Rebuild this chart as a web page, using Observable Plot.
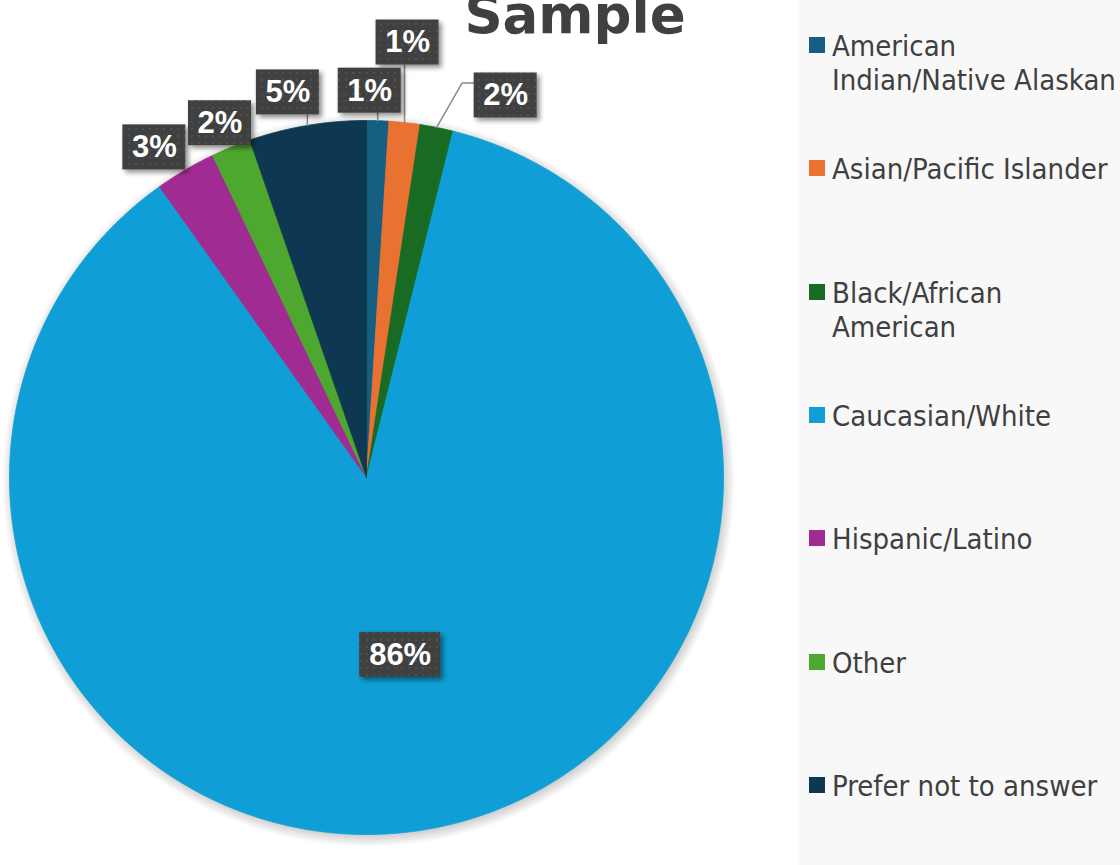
<!DOCTYPE html>
<html>
<head>
<meta charset="utf-8">
<script src="https://cdn.jsdelivr.net/npm/d3@7"></script>
<script src="https://cdn.jsdelivr.net/npm/@observablehq/plot@0.6"></script>
<style>
  html, body { margin: 0; padding: 0; background: #ffffff; overflow: hidden; }
  #wrap { position: relative; width: 1120px; height: 865px; overflow: hidden; background: #ffffff; }
  #legend { position: absolute; left: 799px; top: 0; width: 321px; height: 865px; background: #f8f8f8; }
  #chart { position: absolute; left: 0; top: 0; }
  #title { position: absolute; left: 375px; width: 400px; top: -12px; text-align: center;
           font: bold 53px/53px "DejaVu Sans", sans-serif; color: #404040; white-space: nowrap; }
  .item { position: absolute; left: 10px; }
  .sw { position: absolute; left: 0; top: 0; width: 16px; height: 16px; }
  .lab { position: absolute; left: 23px; top: -8px; font-family: "DejaVu Sans Condensed", "DejaVu Sans", sans-serif;
         font-stretch: condensed; font-size: 29px; line-height: 34px; color: #404040; white-space: nowrap; }
</style>
</head>
<body>
<div id="wrap">
  <div id="legend"></div>
  <div id="chart"></div>
  <div id="title">Sample</div>
</div>
<script>
// ---- data ----
const categories = ["American Indian/Native Alaskan", "Asian/Pacific Islander", "Black/African American",
  "Caucasian/White", "Hispanic/Latino", "Other", "Prefer not to answer"];
const legendLines = [["American", "Indian/Native Alaskan"], ["Asian/Pacific Islander"], ["Black/African", "American"],
  ["Caucasian/White"], ["Hispanic/Latino"], ["Other"], ["Prefer not to answer"]];
const percentages = [1.0, 1.4, 1.5, 86.3, 2.75, 1.8, 5.3];
const percentLabels = ["1%", "1%", "2%", "86%", "3%", "2%", "5%"];
const colors = ["#156082", "#E97132", "#196B24", "#0F9ED5", "#A02B93", "#4EA72E", "#0E3851"];

// ---- layout (label placement, pixels) ----
const labelRadius = [1, 1, 1, 0.5, 1, 1, 1];
const labelOffsetPx = [[-8, -30], [3, -80], [69, -32], [0.5, 2], [-31, -22.5], [-11, -24], [-19.5, -33]];
const leaderType = ["v", "v", "elbow", null, null, null, "v"];

const cx = 366, cy = 477, R = 357;
const boxH = 45;
const boxW = t => t.length > 2 ? 81 : 63;

// ---- build pie geometry from values ----
const pie = d3.pie().sort(null).value(d => d.value);
const arcs = pie(categories.map((c, i) => ({cat: c, value: percentages[i]})));

const slicePoints = [];
arcs.forEach((a, i) => {
  const cat = a.data.cat;
  slicePoints.push({cat, x: 0, y: 0});
  const n = Math.max(4, Math.ceil((a.endAngle - a.startAngle) / 0.005));
  for (let k = 0; k <= n; k++) {
    const t = a.startAngle + (a.endAngle - a.startAngle) * k / n;
    slicePoints.push({cat, x: Math.sin(t), y: Math.cos(t)});
  }
  slicePoints.push({cat, x: 0, y: 0});
});

// labels in data coordinates (1 data unit = R pixels)
const labels = arcs.map((a, i) => {
  const m = (a.startAngle + a.endAngle) / 2;
  const r = labelRadius[i];
  const ex = r * Math.sin(m), ey = r * Math.cos(m);
  const x = ex + labelOffsetPx[i][0] / R;
  const y = ey - labelOffsetPx[i][1] / R;
  const w = boxW(percentLabels[i]) / R, h = boxH / R;
  return {cat: categories[i], text: percentLabels[i], ex, ey, x, y,
          x1: x - w / 2, x2: x + w / 2, y1: y - h / 2, y2: y + h / 2};
});

const leaders = [];
labels.forEach((l, i) => {
  if (leaderType[i] === "v") {
    leaders.push({id: i, x: l.ex, y: l.ey}, {id: i, x: l.ex, y: l.y1});
  } else if (leaderType[i] === "elbow") {
    const yy = l.y2 - 10 / R;
    leaders.push({id: i, x: l.ex, y: l.ey}, {id: i, x: l.x1 - 12 / R, y: yy}, {id: i, x: l.x1, y: yy});
  }
});

const colorOf = d3.scaleOrdinal(categories, colors);

// soft shadow rings under the pie
const shadowMarks = d3.range(12).map(k =>
  Plot.dot([{x: 0, y: 0}], {x: "x", y: "y", r: R - 2 + k, fill: "#000", fillOpacity: 0.016,
    stroke: "none", dx: 2, dy: 3}));

const chart = Plot.plot({
  width: 1120,
  height: 865,
  margin: 0,
  style: {background: "transparent", overflow: "visible"},
  x: {domain: [-1, 1], range: [cx - R, cx + R], axis: null},
  y: {domain: [-1, 1], range: [cy + R, cy - R], axis: null},
  color: {domain: categories, range: colors, type: "ordinal"},
  marks: [
    ...shadowMarks,
    Plot.line(slicePoints, {x: "x", y: "y", z: "cat", fill: "cat", stroke: "cat", strokeWidth: 0.8,
      curve: "linear"}),
    Plot.line(leaders, {x: "x", y: "y", z: "id", stroke: "#8a8a8a", strokeWidth: 1.5, curve: "linear"}),
    Plot.rect(labels, {x1: "x1", x2: "x2", y1: "y1", y2: "y2", fill: "#404040"}),
    Plot.text(labels, {x: "x", y: "y", text: "text", fill: "white", fontSize: 31, fontWeight: "bold",
      fontFamily: "'Liberation Sans', Arial, sans-serif", textAnchor: "middle"})
  ]
});

// pattern + box shadows
const svg = d3.select(chart);
const boxRects = svg.selectAll("rect").nodes();
const boxGroup = boxRects.length ? d3.select(boxRects[0].parentNode) : null;
const defs = svg.insert("defs", ":first-child");
const pat = defs.append("pattern").attr("id", "dotpat").attr("patternUnits", "userSpaceOnUse")
  .attr("width", 7).attr("height", 7);
pat.append("rect").attr("width", 7).attr("height", 7).attr("fill", "#404040");
pat.append("rect").attr("x", 2).attr("y", 2).attr("width", 2).attr("height", 2).attr("fill", "#505050");
const f2 = defs.append("filter").attr("id", "boxShadow").attr("x", "-30%").attr("y", "-30%")
  .attr("width", "160%").attr("height", "160%");
f2.append("feDropShadow").attr("dx", 3).attr("dy", 3).attr("stdDeviation", 2.5)
  .attr("flood-color", "#000").attr("flood-opacity", 0.45);
if (boxGroup) {
  boxGroup.attr("filter", "url(#boxShadow)");
  boxGroup.selectAll("rect").attr("fill", "url(#dotpat)");
}

document.getElementById("chart").appendChild(chart);

// ---- legend ----
const legend = document.getElementById("legend");
categories.forEach((c, i) => {
  const item = document.createElement("div");
  item.className = "item";
  item.style.top = (45 + i * 123.33 - 8) + "px";
  const sw = document.createElement("div");
  sw.className = "sw";
  sw.style.background = colorOf(c);
  const lab = document.createElement("div");
  lab.className = "lab";
  lab.innerHTML = legendLines[i].join("<br>");
  item.appendChild(sw);
  item.appendChild(lab);
  legend.appendChild(item);
});
</script>
</body>
</html>
